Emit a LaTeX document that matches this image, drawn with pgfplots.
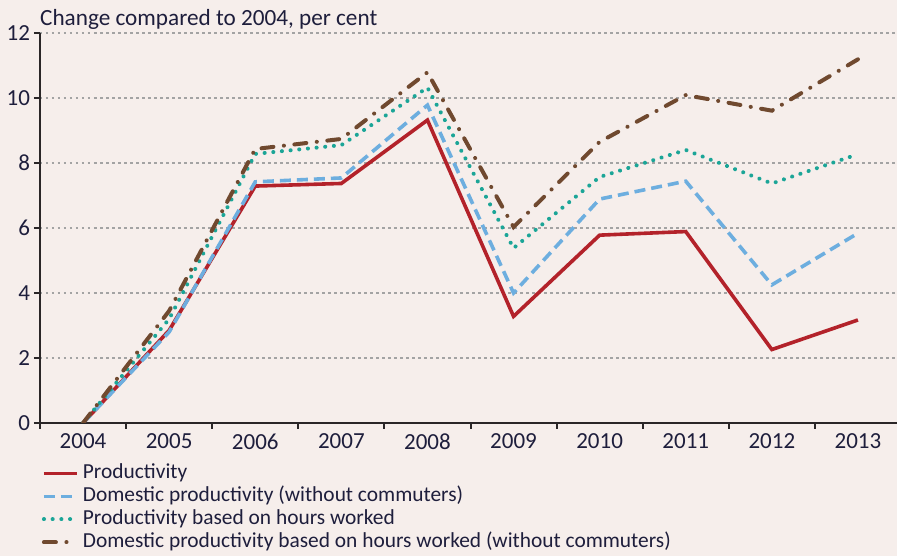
\documentclass[border=0pt]{standalone}
\usepackage{fontspec}
\setmainfont{Carlito}
\usepackage{pgfplots}
\pgfplotsset{compat=1.18}
\definecolor{bg}{HTML}{F6EEEB}
\definecolor{cred}{HTML}{B3222A}
\definecolor{cblue}{HTML}{6DAEDF}
\definecolor{cteal}{HTML}{1BA597}
\definecolor{cbrown}{HTML}{70492F}
\definecolor{ctext}{HTML}{1E1E3C}
\definecolor{caxis}{HTML}{2A2627}
\definecolor{cgrid}{HTML}{A3A3A3}
\begin{document}
\begin{tikzpicture}
\useasboundingbox (0pt,0pt) rectangle (897pt,556pt);
\fill[bg] (0pt,0pt) rectangle (897pt,556pt);
\node[anchor=base west, text=ctext, font=\fontsize{23.2}{26}\selectfont, inner sep=0pt] at (40pt,530pt) {Change compared to 2004, per cent};
\begin{axis}[
  at={(40pt,133pt)}, anchor=south west,
  scale only axis, width=861pt, height=390pt,
  xmin=-0.5, xmax=9.5, ymin=0, ymax=12,
  axis x line*=bottom, axis y line*=left,
  axis line style={line width=2.2pt, caxis},
  xtick={0,...,9},
  xticklabels={2004,2005,2006,2007,2008,2009,2010,2011,2012,2013},
  minor xtick={-0.5,0.5,...,9.5},
  every major x tick/.append style={draw=none},
  every minor x tick/.append style={line width=2pt, caxis},
  minor tick length=6pt,
  ytick={0,2,...,12},
  every major y tick/.append style={line width=2pt, caxis},
  major tick length=6pt,
  tick align=outside,
  ymajorgrids,
  grid style={cgrid, line width=1.3pt, dash pattern=on 2.5pt off 3.5pt},
  ticklabel style={text=ctext, font=\fontsize{23}{26}\selectfont},
  /pgf/number format/assume math mode=true,
  y tick label style={xshift=-0.5pt},
  x tick label style={yshift=-1.5pt},
  legend style={at={(0.002,-0.099)}, anchor=north west, draw=none, fill=none,
    inner sep=0pt, row sep=0pt, font=\fontsize{21.4}{23}\selectfont, text=ctext,
    nodes={inner ysep=1.5pt, inner xsep=4pt, text height=15pt, text depth=5pt}},
  legend cell align=left,
  legend image code/.code={\draw[#1] (0pt,0pt) -- (33pt,0pt);},
]
\addplot[cred, line width=3.6pt] coordinates {
(0,0) (1,2.85) (2,7.29) (3,7.37) (4,9.32) (5,3.28) (6,5.78) (7,5.89) (8,2.26) (9,3.17)};
\addlegendentry{Productivity}
\addplot[cblue, line width=3.6pt, dash pattern=on 11pt off 6pt] coordinates {
(0,0) (1,2.8) (2,7.42) (3,7.54) (4,9.78) (5,4.0) (6,6.89) (7,7.44) (8,4.25) (9,5.84)};
\addlegendentry{Domestic productivity (without commuters)}
\addplot[cteal, line width=4pt, line cap=round, dash pattern=on 0.1pt off 8.6pt] coordinates {
(0,0) (1,3.2) (2,8.28) (3,8.55) (4,10.32) (5,5.38) (6,7.57) (7,8.4) (8,7.37) (9,8.27)};
\addlegendentry{Productivity based on hours worked}
\addplot[cbrown, line width=4pt, line cap=round, dash pattern=on 12pt off 10.5pt on 0.1pt off 10.5pt] coordinates {
(0,0) (1,3.45) (2,8.43) (3,8.74) (4,10.79) (5,6.03) (6,8.65) (7,10.09) (8,9.61) (9,11.19)};
\addlegendentry{Domestic productivity based on hours worked (without commuters)}
\end{axis}
\end{tikzpicture}
\end{document}
